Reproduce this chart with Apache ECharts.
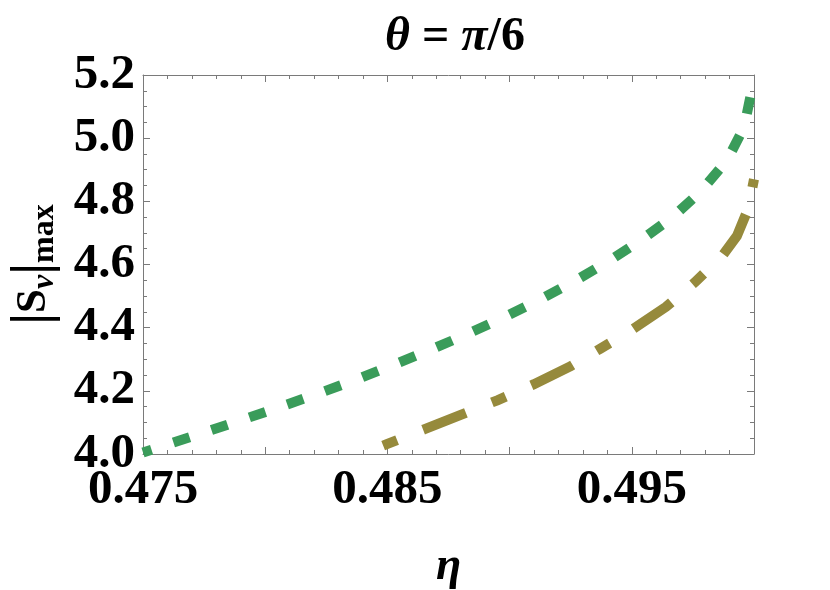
<!DOCTYPE html>
<html>
<head>
<meta charset="UTF-8">
<title>theta = pi/6</title>
<script src="https://cdn.jsdelivr.net/npm/echarts@6/dist/echarts.min.js"></script>
<style>
  html, body { margin: 0; padding: 0; background: #fff; }
  #chart { width: 830px; height: 590px; }
</style>
</head>
<body>
<div id="chart"></div>
<script>
// green dotted curve (eta, |S_v|max)
var greenEta = [0.4750, 0.4762, 0.4777, 0.4792, 0.4808, 0.4823, 0.4838, 0.4853, 0.4868, 0.4883, 0.4897, 0.4912, 0.4926, 0.4940, 0.4953, 0.4967, 0.4978, 0.4989, 0.4996, 0.4999, 0.5000];
var greenS   = [4.005, 4.035, 4.073, 4.112, 4.154, 4.195, 4.238, 4.284, 4.331, 4.381, 4.430, 4.487, 4.545, 4.608, 4.673, 4.752, 4.830, 4.930, 5.036, 5.150, 5.200];
// olive dash-dot curve
var oliveEta = [0.4838, 0.4850, 0.4865, 0.4880, 0.4895, 0.4910, 0.4925, 0.4937, 0.4950, 0.4964, 0.4976, 0.4987, 0.4993, 0.4997, 0.4999, 0.5000];
var oliveS   = [3.995, 4.032, 4.078, 4.124, 4.170, 4.221, 4.278, 4.333, 4.393, 4.466, 4.545, 4.627, 4.690, 4.765, 4.830, 4.870];
var xLabels = ['0.475', '0.485', '0.495'];

function pairs(xs, ys) {
  var out = [];
  for (var i = 0; i < xs.length; i++) out.push([xs[i], ys[i]]);
  return out;
}

var serif = '"Liberation Serif", "DejaVu Serif", serif';
var frame = '#7a7a7a';

var chart = echarts.init(document.getElementById('chart'));

var tickFont = { fontFamily: serif, fontWeight: 'bold', fontSize: 49, color: '#000' };

chart.setOption({
  animation: false,
  title: {
    text: '{i|θ}{b| = }{i|π}{b|/6}',
    left: 450,
    top: 9,
    textAlign: 'center',
    textStyle: {
      rich: {
        i: { fontFamily: serif, fontSize: 48, fontWeight: 'bold', fontStyle: 'italic', color: '#000' },
        b: { fontFamily: serif, fontSize: 48, fontWeight: 'bold', color: '#000' }
      }
    }
  },
  grid: { left: 143, right: 76, top: 75, bottom: 136, outerBoundsMode: 'none', containLabel: false },
  xAxis: [{
    type: 'value',
    min: 0.475,
    max: 0.5,
    interval: 0.005,
    name: 'η',
    nameLocation: 'middle',
    nameGap: 90,
    nameTextStyle: { fontFamily: serif, fontSize: 46, fontStyle: 'italic', fontWeight: 'bold', color: '#000' },
    axisLine: { show: true, lineStyle: { color: frame, width: 1 } },
    axisTick: { show: true, inside: true, length: 7, lineStyle: { color: frame } },
    minorTick: { show: true, splitNumber: 5, length: 4, lineStyle: { color: frame } },
    splitLine: { show: false },
    axisLabel: Object.assign({
      margin: 12,
      showMaxLabel: false,
      formatter: function (v) {
        var s = v.toFixed(3);
        return xLabels.indexOf(s) >= 0 ? s : '';
      }
    }, tickFont)
  }, {
    type: 'value',
    position: 'top',
    min: 0.475,
    max: 0.5,
    interval: 0.005,
    axisLine: { show: true, lineStyle: { color: frame, width: 1 } },
    axisTick: { show: true, inside: true, length: 7, lineStyle: { color: frame } },
    minorTick: { show: true, splitNumber: 5, length: 4, lineStyle: { color: frame } },
    splitLine: { show: false },
    axisLabel: { show: false }
  }],
  yAxis: [{
    type: 'value',
    min: 4.0,
    max: 5.2,
    interval: 0.2,
    name: '{p||}{b|S}{v|ν}{p||}{m|max}',
    nameLocation: 'middle',
    nameRotate: 90,
    nameGap: 82,
    nameTextStyle: {
      rich: {
        p: { fontFamily: serif, fontSize: 54, fontWeight: 'bold', color: '#000' },
        b: { fontFamily: serif, fontSize: 43, fontWeight: 'bold', color: '#000' },
        v: { fontFamily: serif, fontSize: 32, fontStyle: 'italic', fontWeight: 'bold', color: '#000', verticalAlign: 'bottom', padding: [18, 0, 0, 0] },
        m: { fontFamily: serif, fontSize: 32, fontWeight: 'bold', color: '#000', verticalAlign: 'bottom', padding: [18, 0, 0, 0] }
      }
    },
    axisLine: { show: true, lineStyle: { color: frame, width: 1 } },
    axisTick: { show: true, inside: true, length: 7, lineStyle: { color: frame } },
    minorTick: { show: true, splitNumber: 4, length: 4, lineStyle: { color: frame } },
    splitLine: { show: false },
    axisLabel: Object.assign({
      margin: 8,
      formatter: function (v) { return v.toFixed(1); }
    }, tickFont)
  }, {
    type: 'value',
    position: 'right',
    min: 4.0,
    max: 5.2,
    interval: 0.2,
    axisLine: { show: true, lineStyle: { color: frame, width: 1 } },
    axisTick: { show: true, inside: true, length: 7, lineStyle: { color: frame } },
    minorTick: { show: true, splitNumber: 4, length: 4, lineStyle: { color: frame } },
    splitLine: { show: false },
    axisLabel: { show: false }
  }],
  series: [{
    name: 'green',
    type: 'line',
    data: pairs(greenEta, greenS),
    showSymbol: false,
    smooth: false,
    clip: true,
    lineStyle: { color: '#3a9c5a', width: 10, type: [17, 23], dashOffset: 8, cap: 'butt', join: 'miter' }
  }, {
    name: 'olive',
    type: 'line',
    data: pairs(oliveEta, oliveS),
    showSymbol: false,
    smooth: false,
    clip: true,
    lineStyle: { color: '#968a3c', width: 10, type: [15, 28, 46, 28], dashOffset: -27, cap: 'butt', join: 'miter' }
  }]
});
</script>
</body>
</html>
